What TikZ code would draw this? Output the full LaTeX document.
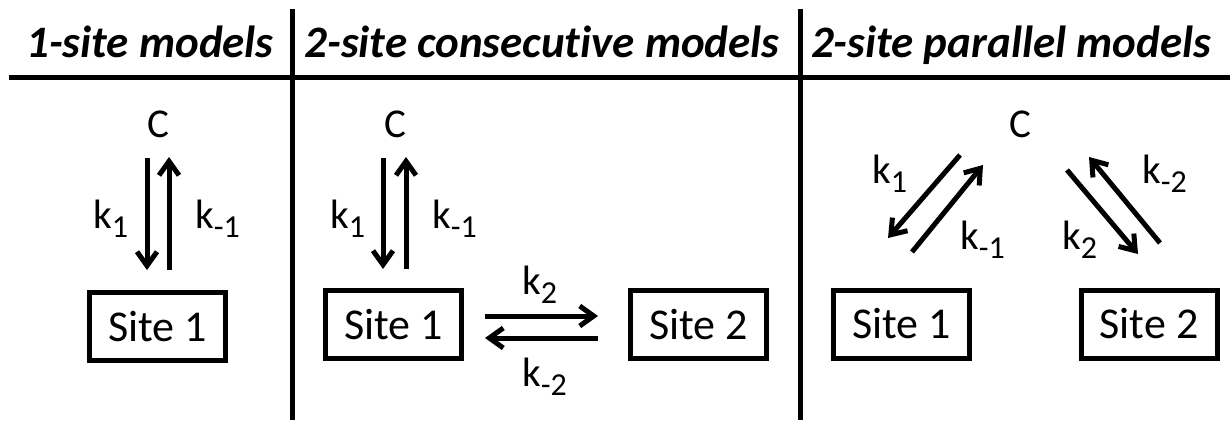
\documentclass[tikz,border=0pt]{standalone}
\usepackage{fontspec}
\setmainfont[Ligatures={NoCommon}]{Carlito}
\usetikzlibrary{arrows.meta}
\newcommand\ksub[2]{k\raisebox{-9pt}{\fontsize{32}{32}\selectfont #2}}
\begin{document}
\begin{tikzpicture}[x=1pt,y=-1pt,
  rulestyle/.style={line width=5pt},
  head/.style={anchor=base,inner sep=0pt,font=\fontsize{45}{45}\selectfont\bfseries\itshape},
  sitebox/.style={draw,line width=5pt,minimum width=136pt,minimum height=68pt,inner sep=0pt,font=\fontsize{44}{44}\selectfont},
  lbl/.style={anchor=base west,inner sep=0pt,font=\fontsize{41}{41}\selectfont},
  cnode/.style={anchor=base,inner sep=0pt,font=\fontsize{41}{41}\selectfont},
  arr/.style={line width=5pt,-{Straight Barb[length=14pt,width=20pt]}}]
\useasboundingbox (0,0) rectangle (1230,420);
% rules
\coordinate (r0) at (9,77);
\coordinate (r1) at (1230,77);
\coordinate (d1a) at (292,9);
\coordinate (d1b) at (292,420);
\coordinate (d2a) at (800,9);
\coordinate (d2b) at (800,420);
\draw[rulestyle] (r0) -- (r1);
\draw[rulestyle] (d1a) -- (d1b);
\draw[rulestyle] (d2a) -- (d2b);
% headings
\node[head] (h1) at (150,57) {1-site models};
\node[head] (h2) at (542,57) {2-site consecutive models};
\node[head] (h3) at (1011,57) {2-site parallel models};
% section 1
\node[cnode] (c1) at (158,137) {C};
\node[sitebox] (s11) at (157.5,326.5) {Site 1};
\coordinate (a1s) at (147,158); \coordinate (a1e) at (147,270);
\coordinate (b1s) at (169,270); \coordinate (b1e) at (169,157);
\draw[arr] (a1s) -- (a1e);
\draw[arr] (b1s) -- (b1e);
\node[lbl] (k11) at (93,228) {\ksub{}{1}};
\node[lbl] (km11) at (195,228) {\ksub{}{-1}};
% section 2
\node[cnode] (c2) at (395,137) {C};
\node[sitebox] (s21) at (393.5,324.5) {Site 1};
\node[sitebox] (s22) at (698.5,324.5) {Site 2};
\coordinate (a2s) at (383,158); \coordinate (a2e) at (383,269);
\coordinate (b2s) at (406,269); \coordinate (b2e) at (406,157);
\draw[arr] (a2s) -- (a2e);
\draw[arr] (b2s) -- (b2e);
\node[lbl] (k21) at (330,228) {\ksub{}{1}};
\node[lbl] (km21) at (432,228) {\ksub{}{-1}};
\coordinate (f2s) at (485,316); \coordinate (f2e) at (598,316);
\coordinate (g2s) at (598,338); \coordinate (g2e) at (485,338);
\draw[arr] (f2s) -- (f2e);
\draw[arr] (g2s) -- (g2e);
\node[lbl] (k22) at (522,294) {\ksub{}{2}};
\node[lbl] (km22) at (522,386) {\ksub{}{-2}};
% section 3
\node[cnode] (c3) at (1020,137) {C};
\node[sitebox] (s31) at (901.5,324) {Site 1};
\node[sitebox] (s32) at (1149,324) {Site 2};
\coordinate (a3s) at (960,155); \coordinate (a3e) at (888,238);
\coordinate (b3s) at (912,252); \coordinate (b3e) at (983,165);
\coordinate (c3s) at (1067,170); \coordinate (c3e) at (1138,254);
\coordinate (e3s) at (1160,243); \coordinate (e3e) at (1089,157);
\draw[arr] (a3s) -- (a3e);
\draw[arr] (b3s) -- (b3e);
\draw[arr] (c3s) -- (c3e);
\draw[arr] (e3s) -- (e3e);
\node[lbl] (k31) at (872,183) {\ksub{}{1}};
\node[lbl] (km31) at (960,249) {\ksub{}{-1}};
\node[lbl] (k32) at (1062,249) {\ksub{}{2}};
\node[lbl] (km32) at (1142,183) {\ksub{}{-2}};
\end{tikzpicture}
\end{document}
